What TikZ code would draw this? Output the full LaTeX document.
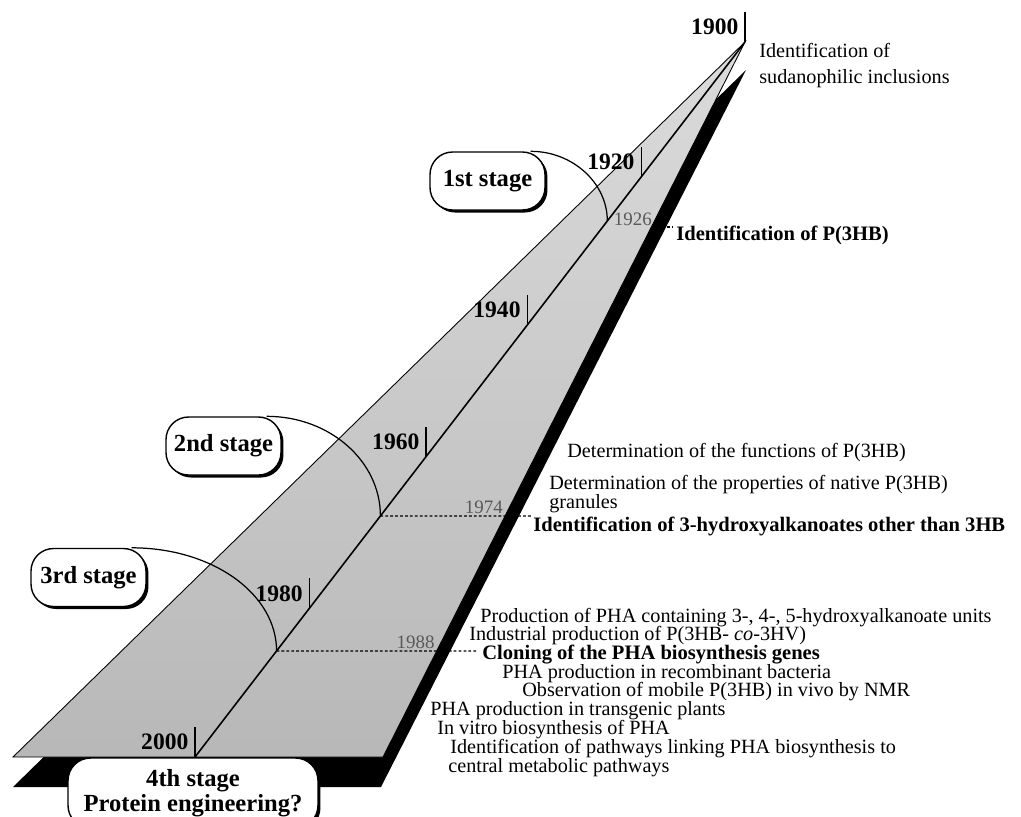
\documentclass[tikz,border=0pt]{standalone}
\usepackage{fontspec}
\setmainfont{Liberation Serif}
\usetikzlibrary{shadows}

\begin{document}
\begin{tikzpicture}[x=0.02cm, y=-0.02cm,
	event/.style={anchor=base west, inner sep=0pt, font=\fontsize{11.5}{12}\selectfont},
	keyevent/.style={event, font=\fontsize{11.7}{12}\selectfont\bfseries},
	yearlabel/.style={left=3.5pt, inner sep=0pt, font=\fontsize{13.4}{14}\selectfont\bfseries},
	subyear/.style={anchor=south east, inner sep=1pt, text=black!65, font=\fontsize{10.8}{11}\selectfont},
	stagebox/.style={draw, line width=0.8pt, fill=white, rounded corners=0.45cm,
		minimum width=2.3cm, minimum height=1.16cm, inner sep=2pt, align=center,
		font=\fontsize{14}{14.2}\selectfont\bfseries,
		drop shadow={shadow xshift=0.05cm, shadow yshift=-0.05cm, fill=black, opacity=1}},
	guide/.style={line width=0.6pt, dash pattern=on 1.6pt off 1.2pt}]
	
	\useasboundingbox (0,0) rectangle (1021,816);
	\clip (0,0) rectangle (1021,816);
	
	% Coordinates
	\coordinate (apex) at (745,42);
	\coordinate (base) at (195,757);
	\coordinate (bandright) at (383,757);
	\coordinate (bandleft) at (13,757);
	
	% Shadow of the band
	\fill (746,70) -- (381,787) -- (13,787) -- cycle;
	
	% Band
	\shadedraw[top color=black!14, bottom color=black!28, line width=0.5pt]
		(apex) -- (bandright) -- (bandleft) -- cycle;
	\draw[line width=0.9pt] (apex) -- (base);
	
	% Points of the dated events
	\path (apex) -- (base)
		coordinate[pos=0.2503] (m1926)
		coordinate[pos=0.6629] (m1974)
		coordinate[pos=0.8517] (m1988);
	\path (apex) -- (bandright)
		coordinate[pos=0.6629] (g1974)
		coordinate[pos=0.8517] (g1988);
	\coordinate (d1926a) at (667,227);
	\coordinate (d1926b) at (673,227);
	\coordinate (d1974) at (531,516);
	\coordinate (d1988) at (478,651);
	
	% Years
	\foreach \yr/\p in {1900/0, 1920/0.189, 1940/0.396, 1960/0.580, 1980/0.792, 2000/1}{
		\path (apex) -- (base) coordinate[pos=\p] (t\yr);
		\draw[line width=0.6pt] (t\yr) -- ++(0,-30) node[yearlabel, midway] (y\yr) {\yr};
	}
	
	% Guide lines
	\draw[guide] (m1974) -- (d1974);
	\draw[guide] (m1988) -- (d1988);
	\draw[guide] (d1926a) -- (d1926b);
	\node[subyear] (s1926) at (654,228) {1926};
	\node[subyear] (s1974) at (g1974) {1974};
	\node[subyear] (s1988) at (g1988) {1988};
	
	% Events
	\node[event] (sudan1) at (759,57) {Identification of};
	\node[event] (sudan2) at (759,83) {sudanophilic inclusions};
	\node[keyevent] (phb) at (676,240) {Identification of P(3HB)};
	\node[event] (func) at (567,457) {Determination of the functions of P(3HB)};
	\node[event] (prop1) at (549,489) {Determination of the properties of native P(3HB)};
	\node[event] (prop2) at (549,508) {granules};
	\node[keyevent] (hydroxy) at (533,531) {Identification of 3-hydroxyalkanoates other than 3HB};
	\node[event] (units) at (480,622) {Production of PHA containing 3-, 4-, 5-hydroxyalkanoate units};
	\node[event] (industry) at (469,640) {Industrial production of P(3HB- \textit{co}-3HV)};
	\node[keyevent] (cloning) at (482,659) {Cloning of the PHA biosynthesis genes};
	\node[event] (recomb) at (502,678) {PHA production in recombinant bacteria};
	\node[event] (nmr) at (522,696) {Observation of mobile P(3HB) in vivo by NMR};
	\node[event] (plants) at (430,715) {PHA production in transgenic plants};
	\node[event] (invitro) at (437,734) {In vitro biosynthesis of PHA};
	\node[event] (path1) at (450,753) {Identification of pathways linking PHA biosynthesis to};
	\node[event] (path2) at (448,772) {central metabolic pathways};
	
	% Stages
	\node[stagebox] (stage1) at (487.5,181) {1st stage};
	\node[stagebox] (stage2) at (223.5,446) {2nd stage};
	\node[stagebox] (stage3) at (88.5,577.5) {3rd stage};
	\node[stagebox, minimum width=5cm, minimum height=1.4cm] (stage4) at (193,793)
		{4th stage\\Protein engineering?};
	
	\draw[line width=0.7pt] ([xshift=-0.3cm]stage1.north east)
		.. controls +(42,0) and +(0,-38) .. (m1926);
	\draw[line width=0.7pt] ([xshift=-0.3cm]stage2.north east)
		.. controls +(63,0) and +(0,-55) .. (m1974);
	\draw[line width=0.7pt] ([xshift=-0.3cm]stage3.north east)
		.. controls +(81,0) and +(0,-57) .. (m1988);
	
\end{tikzpicture}
\end{document}
